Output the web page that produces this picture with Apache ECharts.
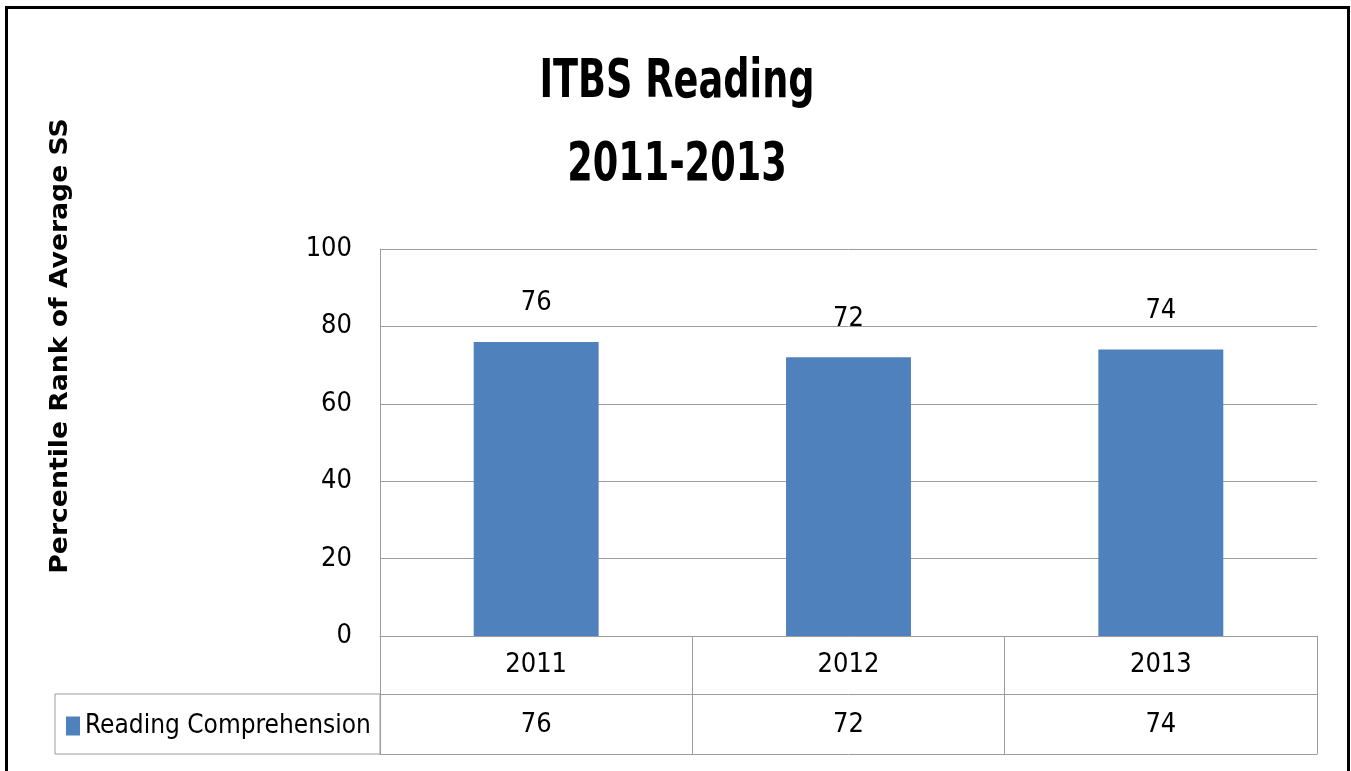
<!DOCTYPE html>
<html>
<head>
<meta charset="utf-8">
<script src="https://cdn.jsdelivr.net/npm/echarts@6/dist/echarts.min.js"></script>
<style>
  html, body { margin: 0; padding: 0; background: #fff; overflow: hidden; }
  #chart { position: absolute; left: 0; top: 0; width: 1351px; height: 771px; }
  #frame { position: absolute; left: 5px; top: 6px; width: 1339px; height: 800px;
           border: 3px solid #000; pointer-events: none; z-index: 5; }
</style>
</head>
<body>
<div id="chart"></div>
<div id="frame"></div>
<script>
var years = ['2011', '2012', '2013'];
var readingComp = [76, 72, 74];
var yTicks = [0, 20, 40, 60, 80, 100];

var FONT = "'DejaVu Sans Condensed', 'Liberation Sans Narrow', sans-serif";
var LINE = '#9c9c9c';
var BLUE = '#4F81BD';

var myChart = echarts.init(document.getElementById('chart'));

var option = {
  animation: false,
  backgroundColor: '#fff',
  legend: {
    data: ['Reading Comprehension'],
    left: 66,
    top: 713,
    itemWidth: 14,
    itemHeight: 19,
    icon: 'rect',
    padding: 0,
    textStyle: { fontFamily: FONT, fontSize: 26, color: '#000' }
  },
  grid: { left: 380, right: 34, top: 249, bottom: 135 },
  xAxis: [
    {
      type: 'category',
      data: years,
      position: 'bottom',
      axisLine: { lineStyle: { color: LINE, width: 1 } },
      axisTick: { show: true, interval: 0, length: 58, lineStyle: { color: LINE } },
      axisLabel: { margin: 15, fontFamily: FONT, fontSize: 27, color: '#000' }
    },
    {
      type: 'category',
      data: years,
      position: 'bottom',
      offset: 58,
      axisLine: { lineStyle: { color: LINE, width: 1 } },
      axisTick: { show: true, interval: 0, length: 60, lineStyle: { color: LINE } },
      axisLabel: {
        margin: 17, fontFamily: FONT, fontSize: 27, color: '#000',
        formatter: function (v, i) { return String(readingComp[i]); }
      }
    },
    {
      type: 'category',
      data: years,
      position: 'bottom',
      offset: 118,
      axisLine: { lineStyle: { color: LINE, width: 1 } },
      axisTick: { show: false },
      axisLabel: { show: false }
    }
  ],
  yAxis: {
    type: 'value',
    min: yTicks[0],
    max: yTicks[yTicks.length - 1],
    interval: 20,
    axisLine: { show: true, lineStyle: { color: LINE } },
    axisTick: { show: false },
    splitLine: { lineStyle: { color: LINE, width: 1 } },
    axisLabel: { margin: 28, fontFamily: FONT, fontSize: 27, color: '#000' }
  },
  series: [{
    name: 'Reading Comprehension',
    type: 'bar',
    data: readingComp,
    barWidth: '40%',
    itemStyle: { color: BLUE },
    label: {
      show: true,
      position: 'top',
      distance: 25,
      fontFamily: FONT,
      fontSize: 27,
      color: '#000'
    }
  }]
};

myChart.setOption(option);

// title, y-axis name and the legend cell of the data table
var yZero = myChart.convertToPixel({ yAxisIndex: 0 }, 0);
var xLeft = 380;
option = {
  graphic: [
    {
      type: 'text',
      x: 677,
      y: 41,
      scaleX: 0.68,
      style: {
        text: 'ITBS Reading\n2011-2013',
        textAlign: 'center',
        textVerticalAlign: 'top',
        fontFamily: "'DejaVu Sans', sans-serif",
        fontWeight: 'bold',
        fontSize: 54,
        lineHeight: 83,
        fill: '#000'
      }
    },
    {
      type: 'text',
      x: 61,
      y: 346,
      rotation: Math.PI / 2,
      scaleX: 1.11,
      style: {
        text: 'Percentile Rank of Average SS',
        textAlign: 'center',
        textVerticalAlign: 'middle',
        fontFamily: "'DejaVu Sans', sans-serif",
        fontWeight: 'bold',
        fontSize: 24,
        fill: '#000'
      }
    },
    {
      type: 'rect',
      shape: { x: 55, y: yZero + 58, width: xLeft - 55, height: 60 },
      style: { fill: 'none', stroke: LINE, lineWidth: 1 },
      z: -1
    }
  ]
};
myChart.setOption(option);
</script>
</body>
</html>
